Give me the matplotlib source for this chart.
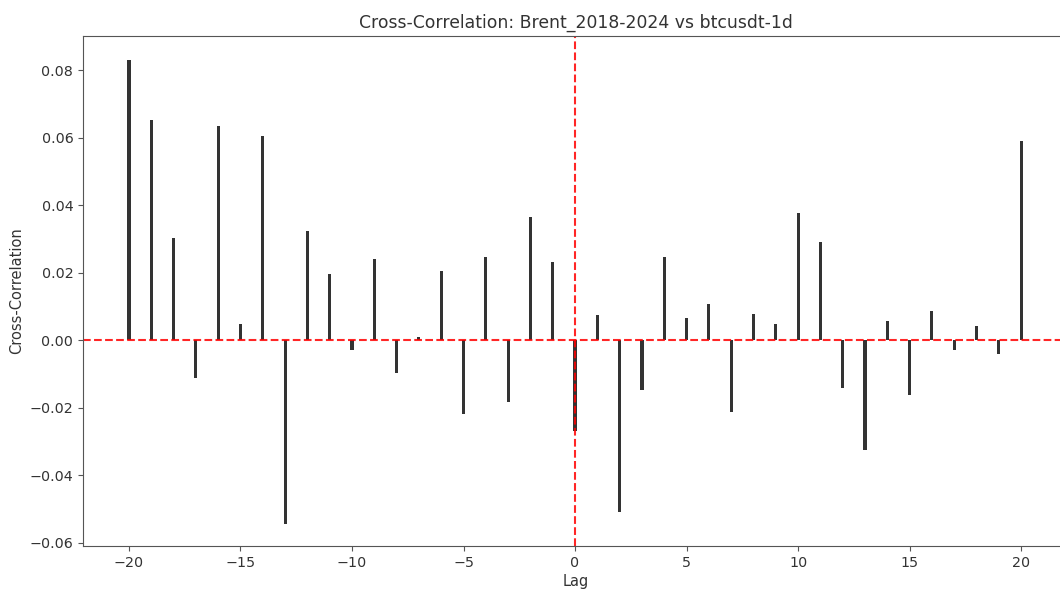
import numpy as np
import matplotlib
matplotlib.use("Agg")
import matplotlib.pyplot as plt

# lags and cross-correlation values
lags = np.arange(-20, 21)
ccf = [0.0830, 0.0652, 0.0303, -0.0113, 0.0635, 0.0048, 0.0605, -0.0545, 0.0324, 0.0197,
       -0.0030, 0.0240, -0.0096, 0.0008, 0.0204, -0.0220, 0.0247, -0.0184, 0.0364, 0.0230,
       -0.0268,
       0.0073, -0.0510, -0.0148, 0.0246, 0.0065, 0.0106, -0.0214, 0.0076, 0.0047, 0.0376,
       0.0290, -0.0142, -0.0325, 0.0056, -0.0162, 0.0087, -0.0030, 0.0042, -0.0040, 0.0590]

fig = plt.figure(figsize=(10.6, 5.92), dpi=100)
ax = fig.add_axes([83 / 1060, 46 / 592, 985 / 1060, 510 / 592])

ax.bar(lags, ccf, width=0.14, color='#333333')
ax.axhline(0, color='red', linestyle='--', linewidth=1.5, alpha=0.85)
ax.axvline(0, color='red', linestyle='--', linewidth=1.5, alpha=0.85)

ax.set_xlim(-22.06, 22.1)
ax.set_ylim(-0.0610, 0.0901)
ax.set_title("Cross-Correlation: Brent_2018-2024 vs btcusdt-1d", fontsize=12.4, color='#333333')
ax.set_xlabel("Lag", fontsize=10.5, color='#333333', labelpad=3)
ax.set_ylabel("Cross-Correlation", fontsize=10.5, color='#333333')
ax.tick_params(labelsize=10.3, labelcolor='#333333', color='#555555')
for s in ax.spines.values():
    s.set_color('#555555')

fig.savefig("out.png", dpi=100)
